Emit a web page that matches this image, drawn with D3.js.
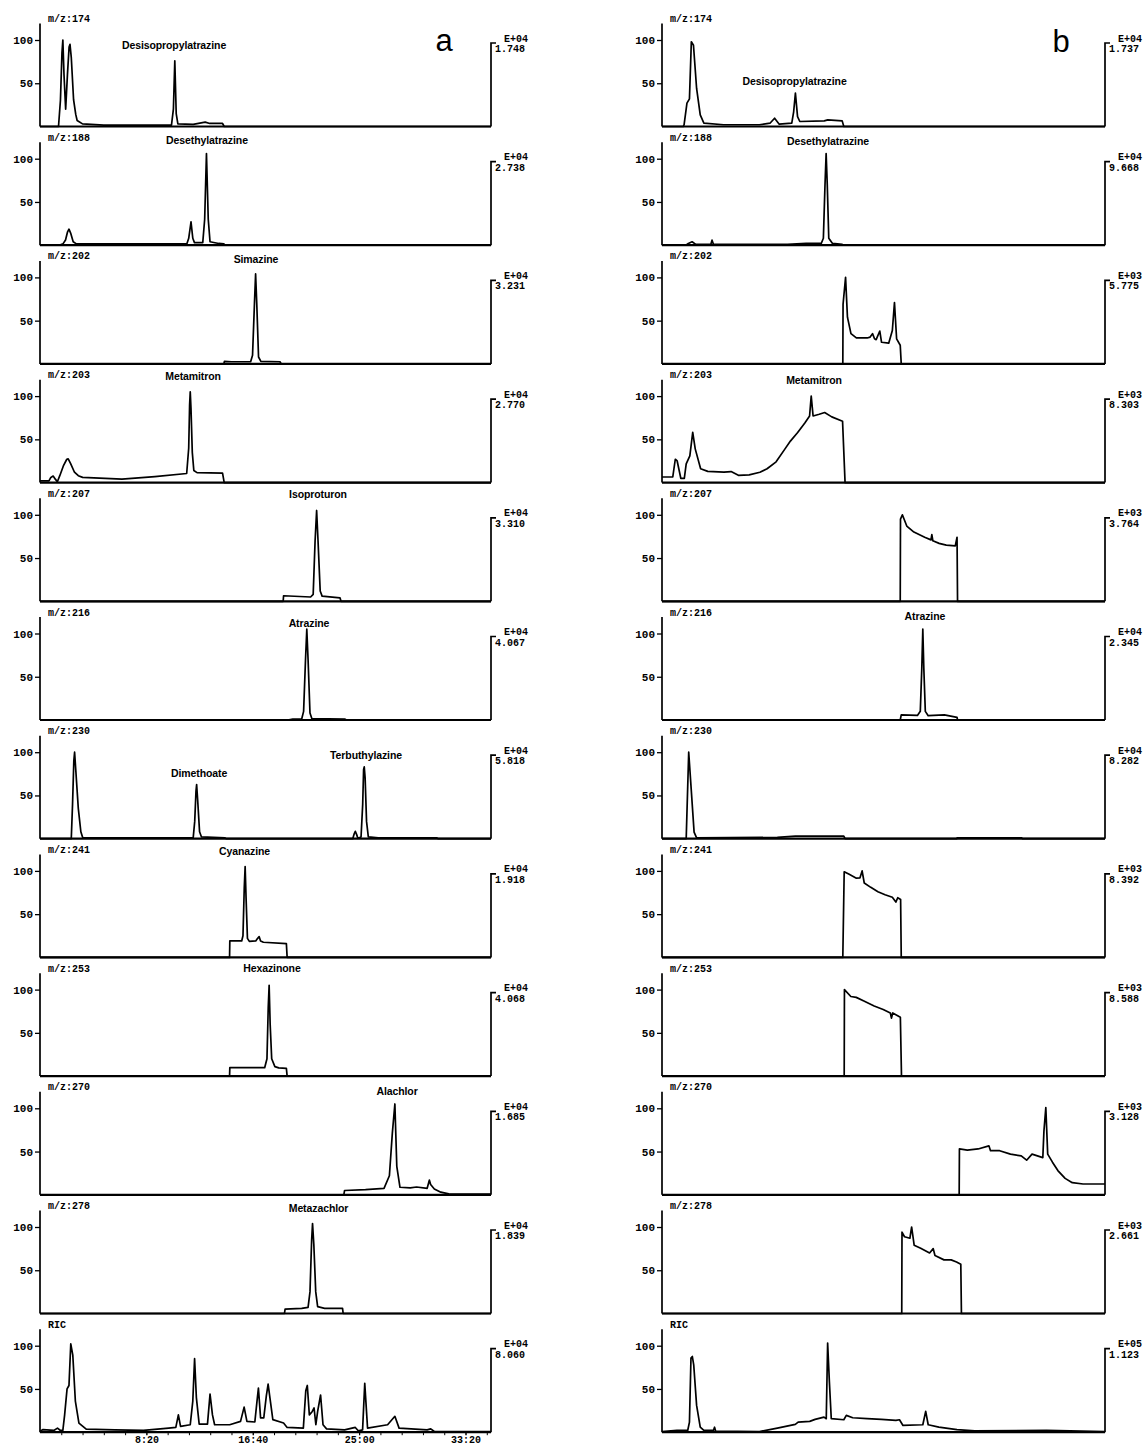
<!DOCTYPE html>
<html>
<head>
<meta charset="utf-8">
<script src="https://cdn.jsdelivr.net/npm/d3@7"></script>
<style>
  body { margin: 0; background: #fff; }
  .mono { font-family: "Liberation Mono", "DejaVu Sans Mono", monospace; font-weight: bold; font-size: 10px; fill: #000; }
  .tick-lab { font-family: "Liberation Mono", "DejaVu Sans Mono", monospace; font-weight: bold; font-size: 11px; fill: #000; }
  .name { font-family: "Liberation Sans", Arial, sans-serif; font-weight: bold; font-size: 10.5px; letter-spacing: -0.1px; fill: #000; }
</style>
</head>
<body>
<svg id="chart"></svg>
<script>
// Data: retention time (min), relative abundance (%)
const mzLabels = ["m/z:174", "m/z:188", "m/z:202", "m/z:203", "m/z:207", "m/z:216",
                  "m/z:230", "m/z:241", "m/z:253", "m/z:270", "m/z:278", "RIC"];

const expA   = ["E+04", "E+04", "E+04", "E+04", "E+04", "E+04", "E+04", "E+04", "E+04", "E+04", "E+04", "E+04"];
const fullA  = ["1.748", "2.738", "3.231", "2.770", "3.310", "4.067", "5.818", "1.918", "4.068", "1.685", "1.839", "8.060"];
const expB   = ["E+04", "E+04", "E+03", "E+03", "E+03", "E+04", "E+04", "E+03", "E+03", "E+03", "E+03", "E+05"];
const fullB  = ["1.737", "9.668", "5.775", "8.303", "3.764", "2.345", "8.282", "8.392", "8.588", "3.128", "2.661", "1.123"];

const timeTicks = [500, 1000, 1500, 2000]; // seconds

// compound annotations: [row, name, time, level]
const namesA = [
    [0, "Desisopropylatrazine", 10.5, 90],
    [1, "Desethylatrazine", 13.08, 117],
    [2, "Simazine", 16.92, 117],
    [3, "Metamitron", 11.99, 119],
    [4, "Isoproturon", 21.78, 119],
    [5, "Atrazine", 21.07, 108],
    [6, "Dimethoate", 12.46, 71],
    [6, "Terbuthylazine", 25.54, 92],
    [7, "Cyanazine", 16.02, 118],
    [8, "Hexazinone", 18.17, 120],
    [9, "Alachlor", 27.97, 115],
    [10, "Metazachlor", 21.82, 117]
];
const namesB = [
    [0, "Desisopropylatrazine", 10.57, 48],
    [1, "Desethylatrazine", 13.24, 116],
    [3, "Metamitron", 12.12, 114],
    [5, "Atrazine", 20.97, 116]
];

// column a
const a174 = [[0,0],[1.45,0],[1.6,30],[1.72,85],[1.79,100],[1.88,60],[2.01,20],[2.15,60],[2.28,92],[2.35,95],[2.45,80],[2.63,31],[2.8,14],[2.91,7],[3.33,3],[5,1.5],[10.3,1.5],[10.45,20],[10.56,76],[10.67,15],[10.8,3],[12.0,2.5],[12.94,5],[13.3,3.5],[14.3,3.5],[14.43,0],[35.33,0]];
const a188 = [[0,0],[1.5,0],[1.8,1.5],[2.0,6],[2.15,15],[2.27,18.5],[2.4,14],[2.6,4],[2.85,1.5],[11.5,1.5],[11.65,8],[11.83,27],[11.97,8],[12.1,3],[12.75,3],[12.9,30],[13.04,106],[13.18,30],[13.32,4],[14.0,2],[14.4,1.5],[14.5,0],[35.33,0]];
const a202 = [[0,0],[14.4,0],[14.45,3],[15,2.5],[16.5,2.5],[16.65,10],[16.8,70],[16.89,104],[16.98,70],[17.12,8],[17.3,3],[18.8,2.5],[18.9,0],[35.33,0]];
const a203 = [[0,2],[0.7,2],[0.85,6],[1.03,7.5],[1.2,4],[1.36,1],[1.55,8],[1.85,20],[2.1,27],[2.21,27.5],[2.4,22],[2.7,12],[3.0,8],[3.34,6],[6.42,4],[9.0,7],[11.49,10.5],[11.65,40],[11.72,90],[11.77,105],[11.83,85],[11.93,35],[12.05,14],[12.3,11.5],[14.3,11],[14.43,0],[35.33,0]];
const a207 = [[0,0],[19.05,0],[19.08,6.4],[21.2,5],[21.4,8],[21.55,70],[21.67,105],[21.78,70],[21.95,12],[22.1,6],[23.5,4],[23.58,0],[35.33,0]];
const a216 = [[0,0],[19.4,0],[19.8,1],[20.5,1.2],[20.65,10],[20.8,70],[20.9,105],[21.0,70],[21.15,8],[21.3,1.5],[23.9,1],[24.0,0],[35.33,0]];
const a230 = [[0,0],[2.45,0],[2.55,40],[2.65,90],[2.71,100],[2.8,80],[3.0,35],[3.2,8],[3.35,1],[12.0,1],[12.12,20],[12.22,55],[12.27,62.5],[12.35,45],[12.5,8],[12.65,2],[14.5,1],[14.6,0],[24.5,0],[24.62,6],[24.7,8.5],[24.8,5],[24.9,0.5],[25.15,2],[25.28,40],[25.35,80],[25.4,83],[25.47,70],[25.58,20],[25.72,2],[26.5,1],[31.1,1],[31.2,0],[35.33,0]];
const a241 = [[0,0],[14.85,0],[14.87,19],[15.8,19],[15.9,25],[16.0,80],[16.07,105],[16.14,70],[16.25,22],[16.4,18.5],[16.9,19],[17.05,22],[17.17,24],[17.28,19],[17.5,17.5],[19.3,16],[19.36,0],[35.33,0]];
const a253 = [[0,0],[14.85,0],[14.87,9.7],[17.6,9.7],[17.78,20],[17.88,80],[17.95,105],[18.03,60],[18.15,20],[18.4,11],[18.7,9.5],[19.3,9],[19.36,0],[35.33,0]];
const a270 = [[0,0],[23.8,0],[23.86,5],[25.5,6],[26.95,7.5],[27.37,22],[27.6,71],[27.8,105],[27.95,33],[28.2,8.7],[29.0,8],[29.5,9],[30.33,7.5],[30.5,17],[30.6,12],[30.89,6.8],[31.4,3],[32.02,1],[35.33,0.7]];
const a278 = [[0,0],[19.15,0],[19.2,5],[20.5,6],[21.0,7],[21.15,25],[21.28,85],[21.35,104],[21.45,80],[21.6,25],[21.75,8],[22.3,6],[23.7,6],[23.75,0],[35.33,0]];
const aRic = [[0,1],[0.24,3],[1.08,2],[1.37,4.7],[1.6,2],[1.79,2],[1.93,20],[2.12,50],[2.27,54],[2.41,102],[2.57,89],[2.77,36],[3.05,10.6],[3.62,3.5],[5.86,2.7],[8.11,2],[10.08,4.7],[10.64,5.5],[10.84,20],[11.01,6.7],[11.77,8.6],[11.97,36],[12.11,85],[12.25,40],[12.47,9.4],[13.12,9.4],[13.32,44],[13.51,20],[13.68,8.6],[14.86,8.6],[15.71,12.5],[15.99,29],[16.21,12.5],[16.83,11.8],[17.0,36],[17.11,51],[17.28,16.5],[17.53,16.5],[17.73,42],[17.87,55.7],[18.01,40],[18.24,14.5],[19.08,10.6],[19.36,5.5],[20.63,4.7],[20.82,48],[20.94,54],[21.1,20],[21.33,24],[21.47,28],[21.61,8.6],[21.75,24],[21.98,43],[22.17,8.6],[22.45,3.9],[23.86,2.7],[24.7,5.5],[24.93,1.6],[25.27,2.7],[25.44,56.5],[25.66,4.7],[27.23,8.6],[27.8,18.4],[28.13,4.7],[30.33,2.7],[30.61,3.9],[30.89,0.8],[35.33,0.8]];

// column b
const b174 = [[0,0],[1.7,0],[1.76,2],[1.99,27],[2.19,32],[2.34,98],[2.51,94],[2.76,44],[3.05,13.5],[3.34,4],[4.91,2],[7.77,2],[8.63,4],[8.98,9.6],[9.35,2.7],[10.35,3.8],[10.5,17],[10.64,38.5],[10.81,11.5],[10.99,5.8],[12.94,6.5],[13.22,7.7],[14.37,6.5],[14.5,0],[35.33,0]];
const b188 = [[0,0],[1.9,0],[2.1,2],[2.4,4],[2.7,1],[3.9,1],[3.99,5.8],[4.1,1],[10,1],[11.5,2],[12.7,2],[12.87,8],[13.0,70],[13.09,106],[13.18,70],[13.3,8],[13.6,2],[14.37,1],[14.45,0],[35.33,0]];
const b202 = [[0,0],[14.42,0],[14.44,69],[14.64,100],[14.79,54],[15.07,35],[15.5,30],[16.36,30],[16.6,31],[16.79,35],[16.95,29],[17.08,28],[17.37,38],[17.51,25],[18.08,24],[18.37,38.6],[18.54,71],[18.71,29],[19.0,21.6],[19.08,0],[35.33,0]];
const b203 = [[0,6.5],[0.86,6.5],[1.06,27],[1.21,25],[1.5,5],[1.78,5],[1.93,21.7],[2.22,31],[2.45,58],[2.65,39],[3.08,16],[3.65,13],[4.94,12],[5.51,12.7],[6.09,8.4],[6.95,9],[7.81,12],[8.38,16],[9.1,24],[9.81,39],[10.24,48],[10.82,58],[11.39,69],[11.77,77],[11.9,100],[12.05,77],[12.54,79],[12.97,81],[13.54,76],[14.4,71],[14.6,0],[35.33,0]];
const b207 = [[0,0],[19.0,0],[19.02,95],[19.17,100],[19.52,87],[20.09,80],[20.95,74],[21.45,71],[21.52,77],[21.6,70],[22.1,67],[22.67,65],[23.39,64],[23.53,74],[23.57,0],[35.33,0]];
const b216 = [[0,0],[19.0,0],[19.08,6],[20.37,5.3],[20.6,10],[20.72,60],[20.8,105],[20.88,60],[21.0,10],[21.23,5],[22.52,6],[23.53,3],[23.57,0],[35.33,0]];
const b230 = [[0,0],[1.93,0],[2.05,60],[2.13,100],[2.33,57],[2.56,7.6],[2.76,1],[9.2,1.5],[10.64,3],[14.5,3],[14.6,0],[23.5,0],[23.53,1],[28.69,1],[28.75,0],[35.33,0]];
const b241 = [[0,0],[14.42,0],[14.53,99],[14.93,96],[15.5,91.6],[15.79,92],[15.96,100],[16.13,86],[16.65,81],[17.22,76],[17.79,72.5],[18.37,69.5],[18.65,64],[18.8,69],[19.03,67],[19.08,0],[35.33,0]];
const b253 = [[0,0],[14.53,0],[14.55,100],[15.06,92],[15.49,91],[16.06,87],[16.92,81],[17.64,77],[18.21,73],[18.3,67],[18.4,73],[19.01,68],[19.1,0],[35.33,0]];
const b270 = [[0,0],[23.7,0],[23.72,53],[24.35,51.7],[25.21,53],[26.07,56.6],[26.2,51],[26.93,51],[27.79,47],[28.65,45],[29.08,40],[29.51,47],[30.37,43],[30.46,73.6],[30.61,100.8],[30.76,47],[31.14,37.7],[31.57,28],[32.15,19],[32.72,14],[33.58,12.5],[35.33,12.5]];
const b278 = [[0,0],[19.12,0],[19.14,94],[19.34,88.7],[19.77,87],[19.91,100],[20.11,79],[20.63,75.5],[21.34,70],[21.63,75],[21.77,67],[22.49,62],[23.06,62],[23.49,59.6],[23.83,57],[23.88,0],[35.33,0]];
const bRic = [[0,0.8],[1.19,2],[2.05,2],[2.19,11.7],[2.31,85.6],[2.42,87.5],[2.53,77.8],[2.76,31],[3.05,5.8],[3.34,2],[4.1,2],[4.19,5.8],[4.28,1.2],[7.77,0.8],[9.2,4.7],[10.63,9],[10.86,11.7],[11.78,12.5],[12.21,14.8],[12.92,17.5],[13.1,15.6],[13.21,103],[13.35,58],[13.5,15.6],[14.5,14.4],[14.7,19.5],[15.21,16.7],[16.36,15.6],[17.5,14.8],[18.65,13.6],[18.94,14.4],[19.22,7.8],[20.8,8.6],[21.03,24],[21.23,8.6],[22.08,5.8],[23.52,3],[24.95,1.6],[30.67,2],[35.33,0.8]];

const tracesA = [a174, a188, a202, a203, a207, a216, a230, a241, a253, a270, a278, aRic];
const tracesB = [b174, b188, b202, b203, b207, b216, b230, b241, b253, b270, b278, bRic];

// Layout
const W = 1148, H = 1450;
const rowStep = 118.7, firstTop = 40, plotH = 86.5;
const tMax = 35.33;

const svg = d3.select("#chart")
    .attr("width", W)
    .attr("height", H)
    .style("display", "block");

const xA = d3.scaleLinear().domain([0, tMax]).range([40, 491]);
const xB = d3.scaleLinear().domain([0, tMax]).range([662, 1105]);

function drawColumn(x, traces, exps, fulls, names, isLeft) {
    const [x0, x1] = x.range();

    traces.forEach((data, i) => {
        const top = firstTop + i * rowStep;
        const y = d3.scaleLinear().domain([0, 100]).range([top + plotH, top]);
        const g = svg.append("g");

        // y axis (ticks only, line drawn separately)
        const yAxis = g.append("g")
            .attr("transform", `translate(${x0},0)`)
            .call(d3.axisLeft(y).tickValues([50, 100]).tickSize(5).tickPadding(2));
        yAxis.select(".domain").remove();
        yAxis.selectAll("line").attr("stroke", "#000").attr("stroke-width", 1.3);
        yAxis.selectAll("text")
            .attr("class", "tick-lab")
            .attr("font-family", null)
            .attr("font-size", null)
            .attr("fill", null);

        g.append("line")
            .attr("x1", x0).attr("x2", x0)
            .attr("y1", y(0)).attr("y2", y(119))
            .attr("stroke", "#000").attr("stroke-width", 1.7);

        // baseline
        g.append("line")
            .attr("x1", x0).attr("x2", x1)
            .attr("y1", y(0)).attr("y2", y(0))
            .attr("stroke", "#000").attr("stroke-width", 2.2);

        // right full-scale bracket
        const hookY = y(100) + 3;
        g.append("path")
            .attr("d", `M${x1},${y(0)}V${hookY}H${x1 + 5}`)
            .attr("fill", "none")
            .attr("stroke", "#000").attr("stroke-width", 1.7);

        g.append("text")
            .attr("class", "mono")
            .attr("x", x1 + 37).attr("y", hookY - 1.5)
            .attr("text-anchor", "end")
            .text(exps[i]);

        g.append("text")
            .attr("class", "mono")
            .attr("x", x1 + 4).attr("y", hookY + 9)
            .text(fulls[i]);

        // m/z label
        g.append("text")
            .attr("class", "mono")
            .attr("x", x0 + 8).attr("y", y(100) - 18)
            .text(mzLabels[i]);

        // trace
        const line = d3.line()
            .x(d => x(d[0]))
            .y(d => y(d[1]));

        g.append("path")
            .datum(data)
            .attr("d", line)
            .attr("fill", "none")
            .attr("stroke", "#000")
            .attr("stroke-width", 1.7)
            .attr("stroke-linejoin", "round");

        // compound names
        names.filter(n => n[0] === i).forEach(n => {
            g.append("text")
                .attr("class", "name")
                .attr("x", x(n[2]))
                .attr("y", y(n[3]))
                .attr("text-anchor", "middle")
                .text(n[1]);
        });

        // time axis under the RIC of column a
        if (isLeft && i === traces.length - 1) {
            const fmt = s => `${Math.floor(s / 60)}:${String(s % 60).padStart(2, "0")}`;
            const minor = d3.range(100, 2120, 100).map(s => s / 60);
            const minorAxis = g.append("g")
                .attr("transform", `translate(0,${y(0)})`)
                .call(d3.axisBottom(x).tickValues(minor).tickSize(3).tickFormat(""));
            minorAxis.select(".domain").remove();

            const xAxis = g.append("g")
                .attr("transform", `translate(0,${y(0)})`)
                .call(d3.axisBottom(x)
                    .tickValues(timeTicks.map(s => s / 60))
                    .tickSize(3)
                    .tickPadding(1)
                    .tickFormat(d => fmt(Math.round(d * 60))));
            xAxis.select(".domain").remove();
            xAxis.selectAll("line").attr("stroke", "#000");
            xAxis.selectAll("text")
                .attr("class", "mono")
                .attr("font-family", null)
                .attr("font-size", null)
                .attr("fill", null);
        }
    });
}

drawColumn(xA, tracesA, expA, fullA, namesA, true);
drawColumn(xB, tracesB, expB, fullB, namesB, false);

// panel letters
svg.append("text")
    .attr("x", 444).attr("y", 51)
    .attr("text-anchor", "middle")
    .attr("font-family", "Liberation Sans, Arial, sans-serif")
    .attr("font-size", "31px")
    .text("a");

svg.append("text")
    .attr("x", 1061).attr("y", 52)
    .attr("text-anchor", "middle")
    .attr("font-family", "Liberation Sans, Arial, sans-serif")
    .attr("font-size", "31px")
    .text("b");
</script>
</body>
</html>
